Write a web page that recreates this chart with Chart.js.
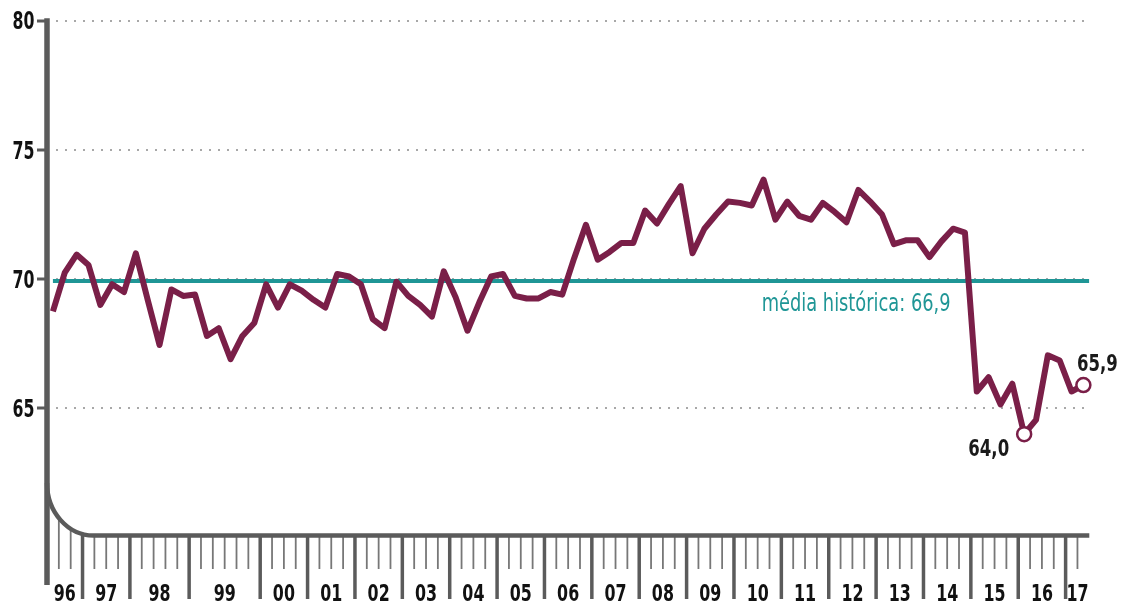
<!DOCTYPE html>
<html><head><meta charset="utf-8">
<script src="https://cdn.jsdelivr.net/npm/chart.js@4.4.1/dist/chart.umd.min.js"></script>
<style>html,body{margin:0;padding:0;background:#fff;}#wrap{width:1128px;height:606px;position:relative;}</style>
</head><body><div id="wrap"><canvas id="c"></canvas></div>
<script>
const yearLabels = ['96','97','98','99','00','01','02','03','04','05','06','07','08','09','10','11','12','13','14','15','16','17'];
const pointsPerYear = [3,4,5,6,4,4,4,4,4,4,4,4,4,4,4,4,4,4,4,4,4,2];
const values = [
  68.75,70.25,70.95,
  70.55,69.0,69.8,69.5,
  71.0,69.2,67.45,69.6,69.35,
  69.4,67.8,68.1,66.9,67.8,68.3,
  69.8,68.9,69.8,69.55,
  69.2,68.9,70.2,70.1,
  69.8,68.45,68.1,69.9,
  69.35,69.0,68.55,70.3,
  69.3,68.0,69.1,70.1,
  70.2,69.35,69.25,69.25,
  69.5,69.4,70.8,72.1,
  70.75,71.05,71.4,71.4,
  72.65,72.15,72.9,73.6,
  71.0,71.95,72.5,73.0,
  72.95,72.85,73.85,72.3,
  73.0,72.45,72.3,72.95,
  72.6,72.2,73.45,73.0,
  72.5,71.35,71.5,71.5,
  70.85,71.45,71.95,71.8,
  65.65,66.2,65.15,65.95,
  64.0,64.55,67.05,66.85,
  65.65,65.9
];
const yTickValues = [65,70,75,80];
const meanLineLevel = 69.93;
const meanLabel = 'média histórica: 66,9';
const highlightIndex = [82, 87];
const highlightLabels = ['64,0', '65,9'];

const FONT = '"DejaVu Sans Condensed", "Liberation Sans Narrow", sans-serif';
const MAROON = '#7a1f48';
const TEAL = '#1f9696';
const AXIS = '#5b5b5b';

const yearCenters = [];
const majorBoundaries = new Set();
{ let s = 0; pointsPerYear.forEach(n => { majorBoundaries.add(s); yearCenters.push(s + n / 2 - 0.5); s += n; }); }

function drawText(ctx, text, x, y, align, sx) {
  ctx.save();
  ctx.translate(x, y);
  ctx.scale(sx, 1);
  ctx.textAlign = align;
  ctx.textBaseline = 'alphabetic';
  ctx.fillText(text, 0, 0);
  ctx.restore();
}

const rulerPlugin = {
  id: 'ruler',
  afterDraw(chart) {
    const { ctx, chartArea: ca, scales: { x, y } } = chart;
    const baseY = y.getPixelForValue(60) - 2;
    const left = ca.left;
    const rx = 46.5, ry = 52.5;
    const cx = left + rx, cy = baseY - ry;
    ctx.save();
    ctx.lineCap = 'butt';
    for (let b = 1; b < values.length; b++) {
      const px = x.getPixelForValue(b - 0.5);
      const major = majorBoundaries.has(b);
      let top = baseY;
      if (px < cx) top = cy + ry * Math.sqrt(Math.max(0, 1 - ((cx - px) / rx) ** 2));
      ctx.lineWidth = major ? 3.5 : 1.8;
      ctx.strokeStyle = major ? AXIS : '#777';
      ctx.beginPath(); ctx.moveTo(px, top); ctx.lineTo(px, major ? 599 : 569); ctx.stroke();
    }
    ctx.strokeStyle = AXIS;
    ctx.lineWidth = 5.5;
    ctx.beginPath(); ctx.moveTo(left, ca.top - 2.5); ctx.lineTo(left, 585); ctx.stroke();
    ctx.lineWidth = 4.5;
    ctx.beginPath();
    ctx.ellipse(cx, cy, rx, ry, 0, Math.PI, Math.PI / 2, true);
    ctx.lineTo(ca.right, baseY);
    ctx.stroke();

    // axis labels, placed through the scales
    ctx.fillStyle = '#111';
    ctx.font = 'bold 24px ' + FONT;
    yTickValues.forEach(v => drawText(ctx, String(v), left - 12.5, y.getPixelForValue(v) + 8.7, 'right', 0.73));
    ctx.font = 'bold 23.5px ' + FONT;
    yearCenters.forEach((c, i) => drawText(ctx, yearLabels[i], x.getPixelForValue(c), 600.5, 'center', 0.75));
    ctx.restore();
  },
  afterDatasetsDraw(chart) {
    const { ctx, scales: { x, y } } = chart;
    ctx.save();
    ctx.font = '24px ' + FONT;
    ctx.fillStyle = TEAL;
    drawText(ctx, meanLabel, 761.7, y.getPixelForValue(meanLineLevel) + 29.6, 'left', 0.825);
    ctx.font = 'bold 23px ' + FONT;
    ctx.fillStyle = '#1a1a1a';
    const p0x = x.getPixelForValue(highlightIndex[0]), p0y = y.getPixelForValue(values[highlightIndex[0]]);
    drawText(ctx, highlightLabels[0], p0x - 15, p0y + 22.3, 'right', 0.8);
    const p1x = x.getPixelForValue(highlightIndex[1]), p1y = y.getPixelForValue(values[highlightIndex[1]]);
    drawText(ctx, highlightLabels[1], p1x - 6.5, p1y - 14.5, 'left', 0.8);
    ctx.restore();
  }
};

new Chart(document.getElementById('c'), {
  type: 'line',
  data: {
    datasets: [
      {
        data: values.map((v, i) => ({ x: i, y: v })),
        borderColor: MAROON, borderWidth: 6, tension: 0,
        borderJoinStyle: 'round', borderCapStyle: 'butt',
        pointRadius: c => highlightIndex.includes(c.dataIndex) ? 7 : 0,
        pointBackgroundColor: '#fff', pointBorderColor: MAROON, pointBorderWidth: 2.5,
        order: 0, clip: false
      },
      {
        data: [{ x: 0, y: meanLineLevel }, { x: values.length - 0.5, y: meanLineLevel }],
        borderColor: TEAL, borderWidth: 4, pointRadius: 0, order: 1
      }
    ]
  },
  options: {
    responsive: true, maintainAspectRatio: false, animation: false,
    layout: { padding: { top: 20.7, right: 38.7, left: 0, bottom: 0 } },
    plugins: { legend: { display: false }, tooltip: { enabled: false } },
    scales: {
      x: {
        type: 'linear', min: -0.5, max: values.length - 0.5, position: 'bottom',
        afterBuildTicks: s => { s.ticks = yearCenters.map(v => ({ value: v })); },
        afterFit: s => { s.height = 68.5; },
        grid: { display: false, drawTicks: false },
        border: { display: false },
        ticks: { display: false, autoSkip: false, maxRotation: 0, callback: (v, i) => yearLabels[i] }
      },
      y: {
        min: 60, max: 80,
        afterBuildTicks: s => { s.ticks = yTickValues.map(v => ({ value: v })); },
        afterFit: s => { s.width = 47; },
        grid: { color: '#a8a8a8', lineWidth: 2, tickLength: 10, tickColor: AXIS, tickWidth: 3, tickBorderDash: [] },
        border: { display: false, dash: [2, 7] },
        ticks: { display: false }
      }
    }
  },
  plugins: [rulerPlugin]
});
</script>
</body></html>
